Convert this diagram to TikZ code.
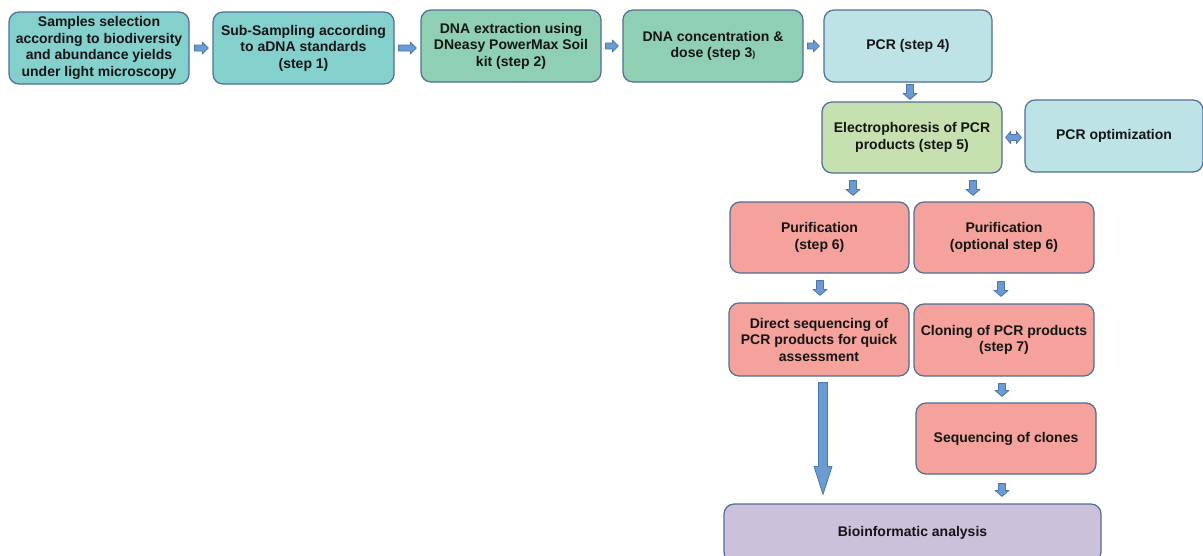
\documentclass[tikz,border=0pt]{standalone}
\usepackage{fontspec}
\setmainfont{Liberation Sans}
\usetikzlibrary{calc}
\definecolor{tealbox}{HTML}{83D0CC}
\definecolor{greenbox}{HTML}{8FD0B5}
\definecolor{lbluebox}{HTML}{BDE3E6}
\definecolor{lgreenbox}{HTML}{C6E0B0}
\definecolor{salmonbox}{HTML}{F4A29B}
\definecolor{lavbox}{HTML}{CBC1DB}
\definecolor{boxedge}{HTML}{4F6F97}
\definecolor{arrfill}{HTML}{6B9BD2}
\definecolor{arredge}{HTML}{4A78AE}
\definecolor{txt}{HTML}{151515}
% vertical block arrow: start, end, shaft half width, head half width, head length
\newcommand\vblk[5]{\filldraw[blk] let \p1=(#1), \p2=(#2) in
  (\x1-#3,\y1) -- (\x1-#3,\y2+#5) -- (\x1-#4,\y2+#5) -- (\x1,\y2) --
  (\x1+#4,\y2+#5) -- (\x1+#3,\y2+#5) -- (\x1+#3,\y1) -- cycle;}
% horizontal block arrow (rightwards)
\newcommand\hblk[2]{\filldraw[blk] let \p1=(#1), \p2=(#2) in
  (\x1,\y1+3pt) -- (\x2-6pt,\y1+3pt) -- (\x2-6pt,\y1+6pt) -- (\x2,\y1) --
  (\x2-6pt,\y1-6pt) -- (\x2-6pt,\y1-3pt) -- (\x1,\y1-3pt) -- cycle;}
% double horizontal block arrow
\newcommand\hhblk[2]{\filldraw[blk] let \p1=(#1), \p2=(#2) in
  (\x1,\y1) -- (\x1+5pt,\y1+6pt) -- (\x1+5pt,\y1+3pt) -- (\x2-5pt,\y1+3pt) --
  (\x2-5pt,\y1+6pt) -- (\x2,\y1) -- (\x2-5pt,\y1-6pt) -- (\x2-5pt,\y1-3pt) --
  (\x1+5pt,\y1-3pt) -- (\x1+5pt,\y1-6pt) -- cycle;}
\begin{document}
\begin{tikzpicture}[x=1pt,y=-1pt,
  box/.style={draw=boxedge, line width=1.2pt, rounded corners=10pt, align=center,
    font=\fontsize{14}{16.5}\selectfont\bfseries, text=txt, inner sep=1pt,
    minimum width=180pt, minimum height=72pt},
  blk/.style={fill=arrfill, draw=arredge, line width=0.8pt, line join=round}]
\useasboundingbox (0,0) rectangle (1203,555);
\fill[white] (0,0) rectangle (1203,555);

\node[box, fill=tealbox] (s0) at (99,48) {Samples selection\\according to biodiversity\\and abundance yields\\under light microscopy};
\node[box, fill=tealbox, minimum width=181pt] (s1) at (303.5,48) {Sub-Sampling according\\to aDNA standards\\(step 1)};
\node[box, fill=greenbox] (s2) at (511,46) {DNA extraction using\\DNeasy PowerMax Soil\\kit (step 2)};
\node[box, fill=greenbox] (s3) at (713,46) {DNA concentration \&\\dose (step 3{\fontsize{9}{10}\selectfont)}};
\node[box, fill=lbluebox, minimum width=168pt] (s4) at (908,46) {PCR (step 4)};
\node[box, fill=lgreenbox, minimum height=71pt] (s5) at (912,137.5) {Electrophoresis of PCR\\products (step 5)};
\node[box, fill=lbluebox, minimum width=178pt] (opt) at (1114,136) {PCR optimization};
\node[box, fill=salmonbox, minimum width=179pt, minimum height=71pt] (p1) at (819.5,237.5) {Purification\\(step 6)};
\node[box, fill=salmonbox, minimum height=71pt] (p2) at (1004,237.5) {Purification\\(optional step 6)};
\node[box, fill=salmonbox, minimum height=73pt] (d) at (819,339.5) {Direct sequencing of\\PCR products for quick\\assessment};
\node[box, fill=salmonbox] (c) at (1004,340) {Cloning of PCR products\\(step 7)};
\node[box, fill=salmonbox, minimum height=71pt] (sc) at (1006,438.5) {Sequencing of clones};
\node[box, fill=lavbox, minimum width=377pt, minimum height=58pt] (bio) at (912.5,533) {Bioinformatic analysis};

\hblk{[xshift=5pt]s0.east}{[xshift=-4pt]s1.west}
\hblk{[xshift=4pt]s1.east}{[xshift=-4pt]s2.west}
\hblk{[xshift=4pt]s2.east}{[xshift=-4pt]s3.west}
\hblk{[xshift=4pt]s3.east}{[xshift=-4pt]s4.west}
\hhblk{[xshift=3pt]s5.east}{[xshift=-3pt]opt.west |- s5.east}
\vblk{[xshift=2pt,yshift=-2pt]s4.south}{[yshift=2pt]s5.north}{3.5pt}{7pt}{6pt}
\vblk{[xshift=-59pt,yshift=-7pt]s5.south}{[yshift=6pt]p1.north}{3.5pt}{7pt}{6pt}
\vblk{[xshift=61pt,yshift=-7pt]s5.south}{[yshift=6pt]p2.north}{3.5pt}{7pt}{6pt}
\vblk{[xshift=0.5pt,yshift=-7pt]p1.south}{[yshift=7pt]d.north}{3.5pt}{7pt}{6pt}
\vblk{[xshift=-3pt,yshift=-8pt]p2.south}{[yshift=7pt]c.north}{3.5pt}{7pt}{6pt}
\vblk{[xshift=-2pt,yshift=-7pt]c.south}{[yshift=6pt]sc.north}{3.5pt}{7pt}{6pt}
\vblk{[xshift=-4pt,yshift=-9pt]sc.south}{[yshift=7pt]bio.north}{3.5pt}{7pt}{6pt}
\vblk{[xshift=4pt,yshift=-6pt]d.south}{[yshift=9pt]bio.north}{4.5pt}{9pt}{28pt}
\end{tikzpicture}
\end{document}
